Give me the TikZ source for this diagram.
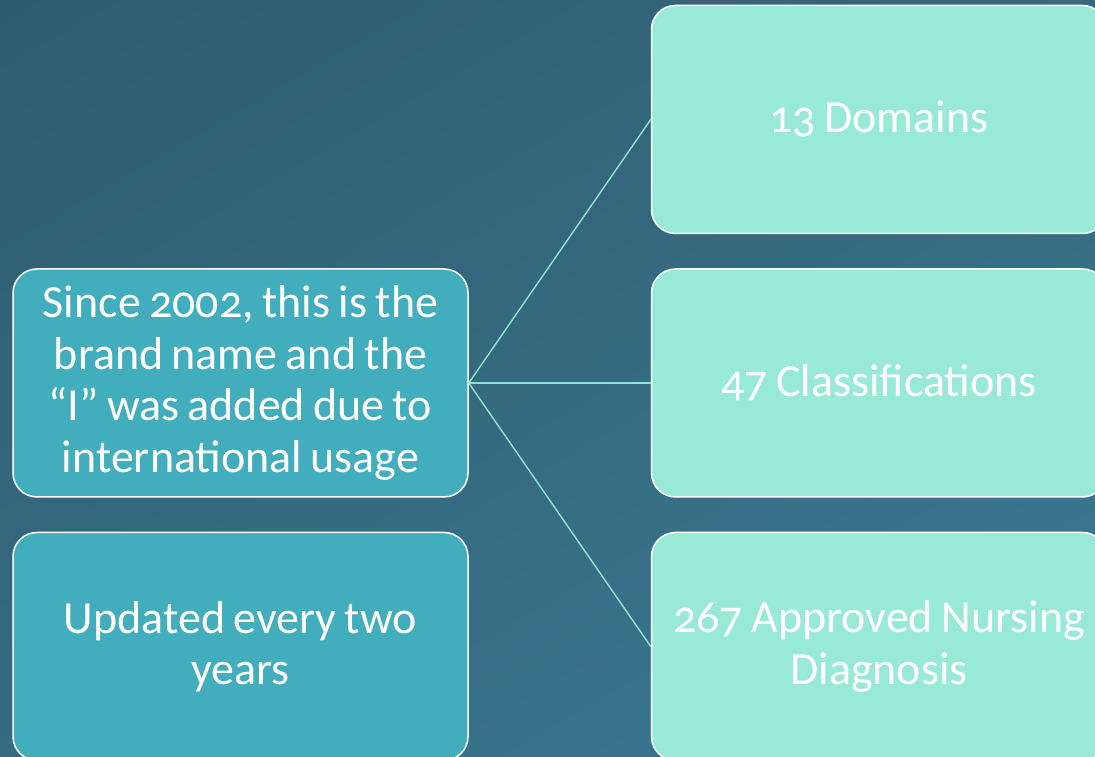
\documentclass[tikz,border=0pt]{standalone}
\usepackage{fontspec}
\setmainfont[Numbers=OldStyle, WordSpace=0.8]{Carlito}
\usetikzlibrary{positioning}

\definecolor{bgdark}{HTML}{2F5A6D}
\definecolor{bglight}{HTML}{3B7B95}
\definecolor{leftfill}{HTML}{41ADBD}
\definecolor{rightfill}{HTML}{98E9D6}
\definecolor{linkcolor}{HTML}{8FE6CF}

\begin{document}
\begin{tikzpicture}[x=1pt, y=1pt]
  \tikzstyle{every node} = [minimum width = 455pt,
                            minimum height = 228pt,
                            inner sep = 4pt,
                            align = center,
                            text = white,
                            font = \fontsize{46}{51.5}\selectfont]
  \tikzstyle{leftbox} = [draw = white, line width = 1.5pt,
                         rounded corners = 24pt, fill = leftfill]
  \tikzstyle{rightbox} = [draw = white, line width = 1.5pt,
                          rounded corners = 24pt, fill = rightfill]
  \tikzstyle{link} = [draw = linkcolor, line width = 1.4pt]

\useasboundingbox (0,0) rectangle (1095,757);
\clip (0,0) rectangle (1095,757);
\shade[shading = axis, top color = bgdark, bottom color = bglight,
       shading angle = 30] (-200,-200) rectangle (1300,960);

% left column
\node[leftbox] (since) at (240.5,374)
  {Since 2002, this is the\\brand name and the\\``I'' was added due to\\international usage};
\node[leftbox, below = 34pt of since] (updated) {Updated every two\\years};

% right column
\node[rightbox, right = 182pt of since] (classes) {47 Classifications};
\node[rightbox, above = 34pt of classes] (domains) {13 Domains};
\node[rightbox, below = 34pt of classes] (diagnosis) {267 Approved Nursing\\Diagnosis};

\draw[link] (since.east) -- (domains.west);
\draw[link] (since.east) -- (classes.west);
\draw[link] (since.east) -- (diagnosis.west);

\end{tikzpicture}
\end{document}
